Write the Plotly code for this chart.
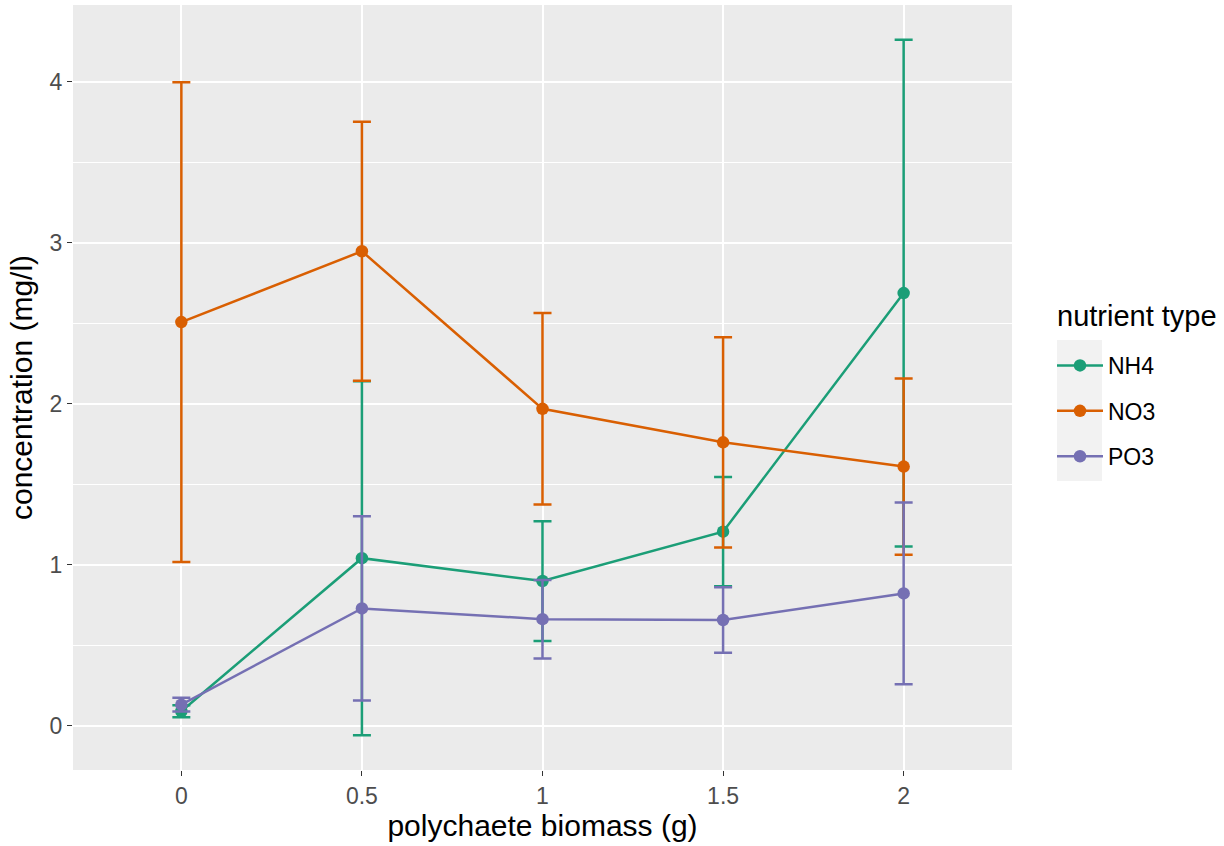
import plotly.graph_objects as go

biomass = ["0", "0.5", "1", "1.5", "2"]

nh4_mean = [0.089, 1.04, 0.898, 1.205, 2.687]
nh4_err = [0.038, 1.10, 0.372, 0.340, 1.574]

no3_mean = [2.507, 2.947, 1.968, 1.760, 1.609]
no3_err = [1.49, 0.805, 0.595, 0.653, 0.548]

po3_mean = [0.130, 0.728, 0.661, 0.656, 0.821]
po3_err = [0.043, 0.572, 0.244, 0.203, 0.565]

series_names = ["NH4", "NO3", "PO3"]
series_colors = ["#1B9E77", "#D95F02", "#7570B3"]
means = [nh4_mean, no3_mean, po3_mean]
errs = [nh4_err, no3_err, po3_err]

fig = go.Figure()
for name, col, m, e in zip(series_names, series_colors, means, errs):
    fig.add_trace(go.Scatter(
        x=biomass, y=m, name=name, legendgroup=name,
        mode="lines+markers",
        line=dict(color=col, width=2.5),
        marker=dict(color=col, size=12.5),
        error_y=dict(type="data", array=e, visible=True, color=col,
                     thickness=2.5, width=9),
    ))

lo = min(min(a - b for a, b in zip(m, e)) for m, e in zip(means, errs))
hi = max(max(a + b for a, b in zip(m, e)) for m, e in zip(means, errs))
pad = (hi - lo) * 0.05

# plot area pixel extents
L, R, T, B = 73, 1012, 5, 770
W, H = 1224, 846
pw, ph = R - L, B - T

def px_x(x):
    return (x - L) / pw

def px_y(y):
    return (B - y) / ph

fig.add_shape(type="rect", xref="paper", yref="paper",
              x0=px_x(1057), x1=px_x(1102), y0=px_y(481), y1=px_y(340),
              fillcolor="#F2F2F2", line=dict(width=0), layer="below")

fig.add_annotation(text="nutrient type", xref="paper", yref="paper",
                   x=px_x(1055), y=px_y(316), xanchor="left", yanchor="middle",
                   showarrow=False, font=dict(size=29, color="black"))

fig.update_layout(
    width=W, height=H,
    margin=dict(l=L, r=W - R, t=T, b=H - B),
    paper_bgcolor="white",
    plot_bgcolor="#EBEBEB",
    font=dict(family="Liberation Sans, Arial, sans-serif", color="black"),
    showlegend=True,
    legend=dict(
        font=dict(size=23, color="black"),
        x=px_x(1052), xanchor="left",
        y=px_y(344), yanchor="top",
        bgcolor="rgba(0,0,0,0)",
        tracegroupgap=12.5,
        itemwidth=46,
    ),
    xaxis=dict(
        type="category",
        range=[-0.6, 4.6],
        showgrid=True, gridcolor="white", gridwidth=2.2,
        zeroline=False,
        ticks="outside", ticklen=5, tickwidth=1.4, tickcolor="#333333",
        tickfont=dict(size=23, color="#4D4D4D"),
        title=dict(text="polychaete biomass (g)", font=dict(size=30, color="black"), standoff=6),
    ),
    yaxis=dict(
        range=[lo - pad, hi + pad],
        tickvals=[0, 1, 2, 3, 4],
        showgrid=True, gridcolor="white", gridwidth=2.2,
        zeroline=False,
        ticks="outside", ticklen=5, tickwidth=1.4, tickcolor="#333333",
        tickfont=dict(size=23, color="#4D4D4D"),
        minor=dict(tickvals=[0.5, 1.5, 2.5, 3.5], showgrid=True, gridcolor="white", gridwidth=1.1, ticks=""),
        title=dict(text="concentration (mg/l)", font=dict(size=30, color="black"), standoff=8),
    ),
)

fig.write_html("out.html")
